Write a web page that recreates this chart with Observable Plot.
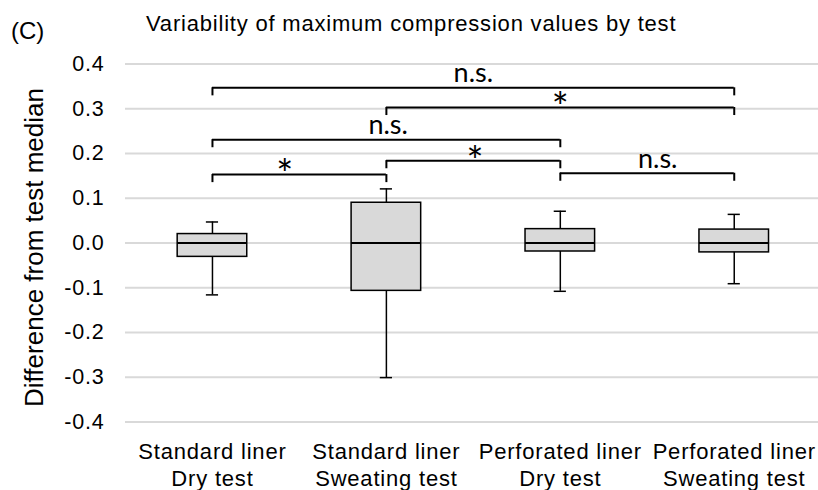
<!DOCTYPE html>
<html><head><meta charset="utf-8">
<script src="https://cdn.jsdelivr.net/npm/d3@7"></script>
<script src="https://cdn.jsdelivr.net/npm/@observablehq/plot@0.6"></script>
<style>
body{margin:0;background:#fff;}
#wrap{position:relative;width:818px;height:490px;overflow:hidden;font-family:"Liberation Sans",Arial,sans-serif;color:#000;}
#header{position:relative;height:44px;}
#panel{position:absolute;left:11px;top:19px;font-size:24px;line-height:1;white-space:nowrap;}
#title{position:absolute;left:146px;top:13px;font-size:22px;line-height:1;letter-spacing:0.8px;white-space:nowrap;}
g[aria-label="x-axis tick label"] text, g[aria-label="y-axis tick label"] text{letter-spacing:0.8px;}
</style>
</head><body>
<div id="wrap">
  <div id="header"><span id="panel">(C)</span><span id="title">Variability of maximum compression values by test</span></div>
  <div id="chart"></div>
</div>
<script>
// ---- data ----
const categories = ["Standard liner\nDry test", "Standard liner\nSweating test", "Perforated liner\nDry test", "Perforated liner\nSweating test"];
const whiskerLow  = [-0.116, -0.301, -0.108, -0.091];
const q1          = [-0.031, -0.107, -0.019, -0.021];
const median      = [0, 0, 0, 0];
const q3          = [0.020, 0.090, 0.031, 0.030];
const whiskerHigh = [0.047, 0.121, 0.071, 0.064];
const yTicks = [-0.4, -0.3, -0.2, -0.1, 0, 0.1, 0.2, 0.3, 0.4];

const bracketFrom  = [0, 1, 0, 0, 1, 2];
const bracketTo    = [3, 3, 2, 1, 2, 3];
const bracketLevel = [0.347, 0.303, 0.231, 0.153, 0.184, 0.156];
const bracketLabel = ["n.s.", "*", "n.s.", "*", "*", "n.s."];
const yTitle = "Difference from test median";

// ---- style constants ----
const BOX = 0.2, CAP = 0.035, DROP = 0.018;
const labelNudge = [0, 0, 0.01, -0.085, 0.01, 0.06];

const boxes = categories.map((c, i) => ({i, lo: whiskerLow[i], q1: q1[i], med: median[i], q3: q3[i], hi: whiskerHigh[i]}));
const brackets = bracketLabel.map((label, k) => ({a: bracketFrom[k], b: bracketTo[k], y: bracketLevel[k], label, mid: (bracketFrom[k] + bracketTo[k]) / 2 + labelNudge[k]}));

const chart = Plot.plot({
  width: 818,
  height: 446,
  marginLeft: 125,
  marginRight: 0,
  marginTop: 19.6,
  marginBottom: 68.6,
  style: {fontFamily: "'Liberation Sans', Arial, sans-serif", fontSize: "22px", color: "black", background: "white", overflow: "visible"},
  x: {domain: [-0.5, 3.5], range: [125, 820.7]},
  y: {domain: [-0.4, 0.4]},
  marks: [
    Plot.ruleY(yTicks, {stroke: "#d9d9d9", strokeWidth: 2}),
    Plot.axisY({ticks: yTicks, tickFormat: d => d.toFixed(1), tickSize: 0, tickPadding: 21, label: null, fontSize: 21.5}),
    Plot.axisX({ticks: [0, 1, 2, 3], tickFormat: i => categories[i], tickSize: 0, tickPadding: 17, label: null, fontSize: 22, lineHeight: 1.26}),
    Plot.text([yTitle], {frameAnchor: "left", textAnchor: "middle", rotate: -90, dx: -83, dy: 4.5, lineAnchor: "bottom", fontSize: 26}),
    Plot.ruleX(boxes, {x: "i", y1: "lo", y2: "hi", stroke: "black", strokeWidth: 1.5}),
    Plot.ruleY(boxes, {x1: d => d.i - CAP, x2: d => d.i + CAP, y: "hi", stroke: "black", strokeWidth: 1.5}),
    Plot.ruleY(boxes, {x1: d => d.i - CAP, x2: d => d.i + CAP, y: "lo", stroke: "black", strokeWidth: 1.5}),
    Plot.rect(boxes, {x1: d => d.i - BOX, x2: d => d.i + BOX, y1: "q1", y2: "q3", fill: "#d9d9d9", stroke: "black", strokeWidth: 1.5}),
    Plot.ruleY(boxes, {x1: d => d.i - BOX, x2: d => d.i + BOX, y: "med", stroke: "black", strokeWidth: 2}),
    Plot.ruleY(brackets, {x1: "a", x2: "b", y: "y", stroke: "black", strokeWidth: 2}),
    Plot.ruleX(brackets, {x: "a", y1: "y", y2: d => d.y - DROP, stroke: "black", strokeWidth: 2}),
    Plot.ruleX(brackets, {x: "b", y1: "y", y2: d => d.y - DROP, stroke: "black", strokeWidth: 2}),
    Plot.text(brackets.filter(d => d.label !== "*"), {x: "mid", y: "y", text: "label", lineAnchor: "bottom", dy: -5.5, fontFamily: "Lato", fontSize: 27}),
    Plot.text(brackets.filter(d => d.label === "*"), {x: "mid", y: "y", text: "label", lineAnchor: "bottom", dy: 14.8, fontFamily: "Lato", fontSize: 40})
  ]
});
document.getElementById("chart").appendChild(chart);
</script>
</body></html>
